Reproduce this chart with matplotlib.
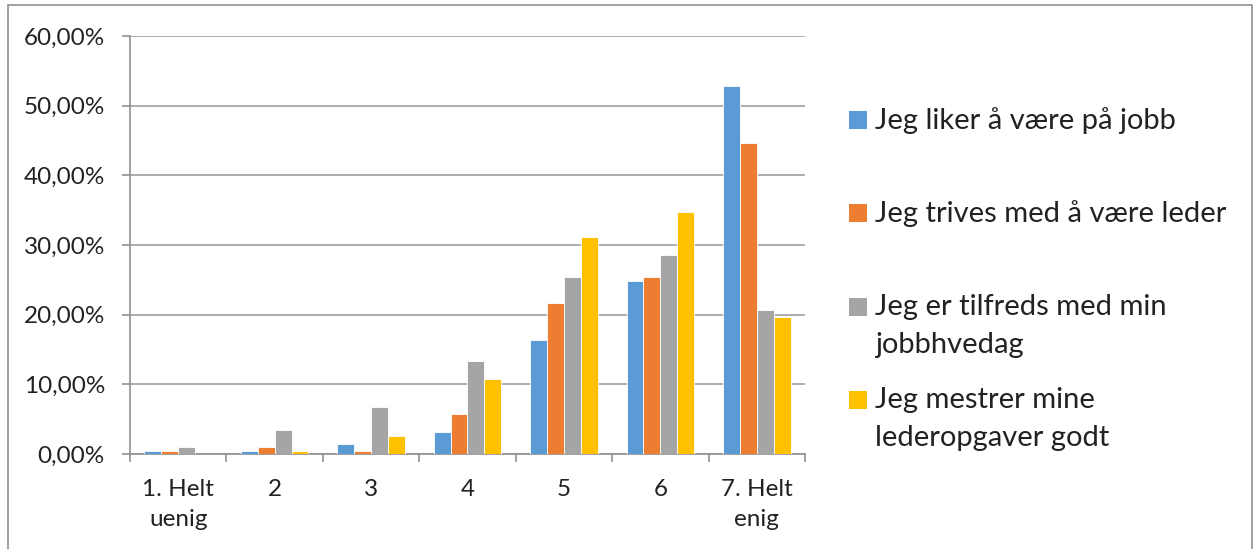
import matplotlib
matplotlib.use("Agg")
import matplotlib.pyplot as plt
from matplotlib.patches import Rectangle
import numpy as np

categories = ["1. Helt\nuenig", "2", "3", "4", "5", "6", "7. Helt\nenig"]
series_names = ["Jeg liker å være på jobb", "Jeg trives med å være leder",
                "Jeg er tilfreds med min\njobbhvedag", "Jeg mestrer mine\nlederopgaver godt"]
liker = [0.45, 0.45, 1.5, 3.1, 16.3, 24.8, 52.8]
trives = [0.45, 1.05, 0.45, 5.8, 21.7, 25.4, 44.6]
tilfreds = [0.95, 3.5, 6.75, 13.4, 25.4, 28.5, 20.7]
mestrer = [0.0, 0.45, 2.6, 10.8, 31.2, 34.8, 19.7]
colors = ["#5B9BD5", "#ED7D31", "#A5A5A5", "#FFC000"]
yticks = [0, 10, 20, 30, 40, 50, 60]

plt.rcParams['font.family'] = ['Lato', 'DejaVu Sans']
W, H = 1260, 549
fig = plt.figure(figsize=(W / 100, H / 100), dpi=100)
ax = fig.add_axes([130 / W, 1 - 454 / H, 675 / W, 418 / H])

x = np.arange(len(categories))
w = 0.175
for i, vals in enumerate([liker, trives, tilfreds, mestrer]):
    ax.bar(x + (i - 1.5) * w, vals, width=w, color=colors[i], label=series_names[i],
           edgecolor='white', linewidth=0.6, zorder=3)

ax.set_xlim(-0.5, len(categories) - 0.5)
ax.set_ylim(0, 60)
ax.set_yticks(yticks)
ax.set_yticklabels([f"{v},00%" for v in yticks], fontsize=17.5, color='#222222')
ax.yaxis.grid(True, color='#A0A0A0', linewidth=1.2, zorder=0)
ax.set_xticks(x)
ax.set_xticklabels(categories, fontsize=17.5, color='#222222', linespacing=1.5)
ax.tick_params(axis='x', length=0, pad=18)
ax.set_xticks(np.arange(-0.5, len(categories)), minor=True)
ax.tick_params(axis='x', which='minor', length=6, color='#909090', width=1.2)
ax.tick_params(axis='y', length=6, color='#909090', width=1.2, pad=12)
for s in ['top', 'right']:
    ax.spines[s].set_visible(False)
for s in ['left', 'bottom']:
    ax.spines[s].set_color('#909090')
    ax.spines[s].set_linewidth(1.2)

# legend drawn entry by entry (marker aligned to first text line, as in the reference)
first_line_y = [120, 213, 307, 400]
for name, col, yy in zip(series_names, colors, first_line_y):
    fig.patches.append(Rectangle((849 / W, 1 - (yy + 9) / H), 18 / W, 18 / H,
                                 transform=fig.transFigure, facecolor=col, edgecolor='none'))
    fig.text(875 / W, 1 - (yy - 13) / H, name, fontsize=21, color='#222222',
             va='top', ha='left', linespacing=1.58)

fig.patches.append(Rectangle((8 / W, -0.1), 1244 / W, 1 - 5 / H + 0.1, transform=fig.transFigure,
                             fill=False, edgecolor='#909090', linewidth=1.2))
fig.savefig("out.png", dpi=100)
